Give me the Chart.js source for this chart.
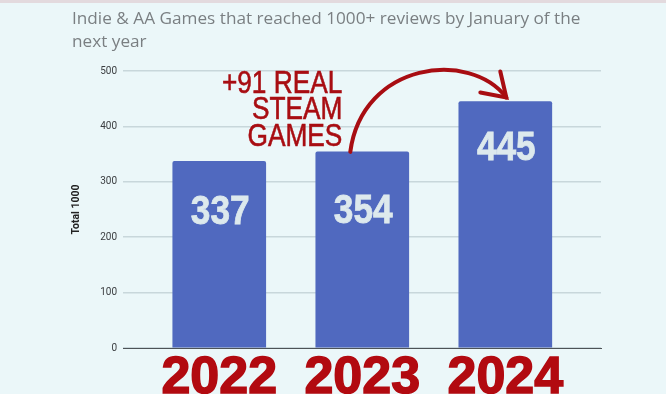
<!DOCTYPE html>
<html>
<head>
<meta charset="utf-8">
<script src="https://cdn.jsdelivr.net/npm/chart.js@4.4.1/dist/chart.umd.min.js"></script>
<style>
  html, body { margin: 0; padding: 0; }
  body { width: 666px; height: 394px; background: #ebf7f9; position: relative; overflow: hidden; }
  #topStrip { position: absolute; left: 0; top: 0; width: 666px; height: 3px; background: #e3dade; }
  #title {
    position: absolute; left: 72px; top: 6px;
    font-family: "Open Sans", sans-serif; font-size: 17.2px; line-height: 23px;
    color: #7a7f82; white-space: nowrap;
  }
  #graficoResenas { position: absolute; left: 0; top: 0; }
</style>
</head>
<body>
<div id="topStrip"></div>
<canvas id="graficoResenas" width="666" height="394"></canvas>
<div id="title">Indie &amp; AA Games that reached 1000+ reviews by January of the<br>next year</div>
<script>
const years = [2022, 2023, 2024];
const reviewCounts = [337, 354, 445];
const yTicks = [0, 100, 200, 300, 400, 500];
const annotationLines = ["+91 REAL", "STEAM", "GAMES"];

// how far below the top of each bar its number sits (px)
const labelDrop = [51, 60, 47];

// numbers written inside each bar
const valueLabels = {
    id: "valueLabels",
    afterDatasetsDraw(chart) {
        const ctx = chart.ctx;
        const meta = chart.getDatasetMeta(0);
        ctx.save();
        ctx.fillStyle = "#dde9ed";
        ctx.strokeStyle = "#dde9ed";
        ctx.lineWidth = 0.8;
        ctx.font = "bold 41px 'Liberation Sans'";
        ctx.textAlign = "center";
        ctx.textBaseline = "middle";
        meta.data.forEach((bar, i) => {
            ctx.save();
            ctx.translate(bar.x + 1, bar.y + labelDrop[i]);
            ctx.scale(0.86, 1);
            ctx.fillText(String(reviewCounts[i]), 0, 0);
            ctx.strokeText(String(reviewCounts[i]), 0, 0);
            ctx.restore();
        });
        ctx.restore();
    }
};

// red "+91 REAL STEAM GAMES" note and the curved arrow
const growthNote = {
    id: "growthNote",
    afterDatasetsDraw(chart) {
        const ctx = chart.ctx;
        const bars = chart.getDatasetMeta(0).data;
        const from = bars[1];
        const to = bars[2];
        const red = "#a80d12";

        ctx.save();
        ctx.fillStyle = red;
        ctx.strokeStyle = red;
        ctx.lineWidth = 0.6;
        ctx.font = "32px 'Liberation Sans'";
        ctx.textAlign = "right";
        ctx.textBaseline = "alphabetic";
        const right = from.x - 20;
        const lastBase = from.y - 6;
        annotationLines.forEach((line, i) => {
            const base = lastBase - (annotationLines.length - 1 - i) * 26.5;
            ctx.save();
            ctx.translate(right, base);
            ctx.scale(0.82, 1);
            ctx.fillText(line, 0, 0);
            ctx.strokeText(line, 0, 0);
            ctx.restore();
        });

        const sx = from.x - 12, sy = from.y;
        const ex = to.x + 1, ey = to.y - 4;
        ctx.lineWidth = 4;
        ctx.lineCap = "round";
        ctx.beginPath();
        ctx.moveTo(sx, sy);
        ctx.bezierCurveTo(sx + 12, sy - 90, ex - 36, ey - 48, ex, ey);
        ctx.stroke();
        ctx.beginPath();
        ctx.moveTo(ex - 26, ey - 5);
        ctx.lineTo(ex, ey);
        ctx.lineTo(ex - 6, ey - 26);
        ctx.stroke();
        ctx.restore();
    }
};

function renderChart() {
    const ctx = document.getElementById("graficoResenas").getContext("2d");
    new Chart(ctx, {
        type: "bar",
        data: {
            datasets: [{
                label: "Total 1000",
                data: years.map((y, i) => ({ x: y, y: reviewCounts[i] })),
                backgroundColor: "#5069bf",
                barThickness: 93,
                borderRadius: 2
            }]
        },
        options: {
            responsive: false,
            animation: false,
            layout: { padding: { top: 71, right: 65, bottom: 0, left: 0 } },
            plugins: {
                legend: { display: false },
                tooltip: { enabled: false },
                title: { display: false }
            },
            scales: {
                x: {
                    type: "linear",
                    offset: false,
                    min: 2021.327,
                    max: 2024.669,
                    afterBuildTicks: s => { s.ticks = years.map(v => ({ value: v })); },
                    afterFit: s => { s.height = 46; },
                    grid: { display: false, offset: false },
                    border: { display: true, color: "#4d5357", width: 1 },
                    ticks: {
                        color: "#b20a10",
                        textStrokeColor: "#b20a10",
                        textStrokeWidth: 1.5,
                        font: { family: "Liberation Sans", size: 52, weight: "bold" },
                        padding: -9,
                        maxRotation: 0,
                        autoSkip: false,
                        callback: v => String(v)
                    }
                },
                y: {
                    min: 0,
                    max: 500,
                    afterBuildTicks: s => { s.ticks = yTicks.map(v => ({ value: v })); },
                    afterFit: s => { s.width = 123; },
                    grid: { color: "#c8d7db", lineWidth: 1.5, drawTicks: false },
                    border: { display: false },
                    ticks: {
                        color: "#3a3d40",
                        font: { family: "Roboto", size: 10 },
                        padding: 6
                    },
                    title: {
                        display: true,
                        text: "Total 1000",
                        color: "#222",
                        font: { family: "Roboto", size: 10.5, weight: "bold" },
                        padding: { top: 70, bottom: 0 }
                    }
                }
            }
        },
        plugins: [valueLabels, growthNote]
    });
}

renderChart();
</script>
</body>
</html>
